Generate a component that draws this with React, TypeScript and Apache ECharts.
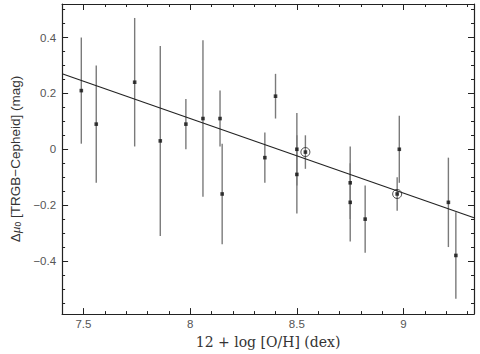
import React, { useEffect, useRef } from "react";
import * as echarts from "echarts";

// 12 + log[O/H] (dex)
const oh = [7.49, 7.56, 7.74, 7.86, 7.98, 8.06, 8.14, 8.15, 8.35, 8.40, 8.50, 8.50, 8.54, 8.75, 8.75, 8.82, 8.97, 8.98, 9.21, 9.245];
// Δμ0 (mag)
const dmu = [0.21, 0.09, 0.24, 0.03, 0.09, 0.11, 0.11, -0.16, -0.03, 0.19, 0.00, -0.09, -0.01, -0.12, -0.19, -0.25, -0.16, 0.00, -0.19, -0.38];
// error (mag)
const err = [0.19, 0.21, 0.23, 0.34, 0.09, 0.28, 0.10, 0.18, 0.09, 0.08, 0.13, 0.14, 0.06, 0.13, 0.14, 0.12, 0.06, 0.12, 0.16, 0.155];
// circled points (indices)
const circled = [12, 16];
// fitted line endpoints
const fitX = [7.4, 9.33];
const fitY = [0.27, -0.245];

const xMajor = [7.5, 8, 8.5, 9];
const xMinor = [7.4, 7.6, 7.7, 7.8, 7.9, 8.1, 8.2, 8.3, 8.4, 8.6, 8.7, 8.8, 8.9, 9.1, 9.2, 9.3];
const yMajor = [-0.4, -0.2, 0, 0.2, 0.4];
const yMinor = [-0.55, -0.5, -0.45, -0.35, -0.3, -0.25, -0.15, -0.1, -0.05, 0.05, 0.1, 0.15, 0.25, 0.3, 0.35, 0.45, 0.5];

const X_MIN = 7.4, X_MAX = 9.33, Y_MIN = -0.59, Y_MAX = 0.52;

export default function App() {
  const ref = useRef<HTMLDivElement>(null);
  useEffect(() => {
    const chart = echarts.init(ref.current!, null, { renderer: "svg" });
    const frame = "#222";
    const sans = "Liberation Sans, Arial, sans-serif";
    const mkX = (pos: string, ticks: number[], len: number, labels: boolean, line: boolean, name?: boolean) => ({
      type: "value",
      position: pos,
      min: X_MIN,
      max: X_MAX,
      splitLine: { show: false },
      axisLine: { show: line, onZero: false, lineStyle: { color: frame, width: 1.2 } },
      axisTick: { show: true, inside: true, length: len, customValues: ticks, lineStyle: { color: frame, width: 1 } },
      axisLabel: labels
        ? { show: true, customValues: xMajor, margin: 4, color: "#555", fontSize: 11.5, fontFamily: sans }
        : { show: false },
      name: name ? "12 + log [O/H] (dex)" : "",
      nameLocation: "middle",
      nameGap: 20,
      nameTextStyle: { fontFamily: "DejaVu Serif, serif", fontSize: 14, color: "#333" },
    });
    const mkY = (pos: string, ticks: number[], len: number, labels: boolean, line: boolean, name?: boolean) => ({
      type: "value",
      position: pos,
      min: Y_MIN,
      max: Y_MAX,
      splitLine: { show: false },
      axisLine: { show: line, onZero: false, lineStyle: { color: frame, width: 1.2 } },
      axisTick: { show: true, inside: true, length: len, customValues: ticks, lineStyle: { color: frame, width: 1 } },
      axisLabel: labels
        ? {
            show: true,
            customValues: yMajor,
            margin: 6,
            color: "#555",
            fontSize: 11.5,
            fontFamily: sans,
            formatter: (v: number) => (Math.abs(v) < 1e-9 ? "0" : String(v).replace("-", "\u2212")),
          }
        : { show: false },
      name: name ? "{a|\u0394}{m|\u03bc}{s|0} [TRGB\u2212Cepheid] (mag)" : "",
      nameLocation: "middle",
      nameGap: 34,
      nameRotate: 90,
      nameTextStyle: {
        fontFamily: sans,
        fontSize: 13.5,
        color: "#333",
        rich: {
          a: { fontSize: 13.5, fontFamily: sans, color: "#333" },
          m: { fontSize: 13.5, fontStyle: "italic", fontFamily: "Liberation Serif, serif", color: "#333" },
          s: { fontSize: 8.5, fontFamily: sans, color: "#333", verticalAlign: "bottom", padding: [6, 0, 0, 0] },
        },
      },
    });

    const barData = oh.map((x, i) => [x, dmu[i] - err[i], dmu[i] + err[i]]);
    const ptData = oh.map((x, i) => [x, dmu[i]]);
    const circData = circled.map((i) => [oh[i], dmu[i]]);
    const fitData = fitX.map((x, i) => [x, fitY[i]]);

    chart.setOption({
      animation: false,
      backgroundColor: "#fff",
      grid: { left: 51, right: 6, top: 4, bottom: 34, containLabel: false },
      xAxis: [
        mkX("bottom", xMajor, 6, true, true, true),
        mkX("bottom", xMinor, 3, false, false),
        mkX("top", xMajor, 6, false, true),
        mkX("top", xMinor, 3, false, false),
      ],
      yAxis: [
        mkY("left", yMajor, 6, true, true, true),
        mkY("left", yMinor, 3, false, false),
        mkY("right", yMajor, 6, false, true),
        mkY("right", yMinor, 3, false, false),
      ],
      series: [
        {
          type: "custom",
          xAxisIndex: 0,
          yAxisIndex: 0,
          data: barData,
          clip: true,
          renderItem: (params: any, api: any) => {
            const x = api.value(0);
            const lo = api.coord([x, api.value(1)]);
            const hi = api.coord([x, api.value(2)]);
            return {
              type: "line",
              shape: { x1: lo[0], y1: lo[1], x2: hi[0], y2: hi[1] },
              style: { stroke: "#7a7a7a", lineWidth: 1.4 },
            };
          },
        },
        {
          type: "line",
          data: fitData,
          symbol: "none",
          lineStyle: { color: "#222", width: 1.1 },
          silent: true,
        },
        {
          type: "scatter",
          data: ptData,
          symbol: "rect",
          symbolSize: 3.6,
          itemStyle: { color: "#111" },
        },
        {
          type: "scatter",
          data: circData,
          symbol: "circle",
          symbolSize: 9,
          itemStyle: { color: "transparent", borderColor: "#222", borderWidth: 1 },
        },
      ],
    });
    return () => chart.dispose();
  }, []);
  return <div ref={ref} style={{ position: "fixed", left: 0, top: 0, width: 480, height: 354 }} />;
}
